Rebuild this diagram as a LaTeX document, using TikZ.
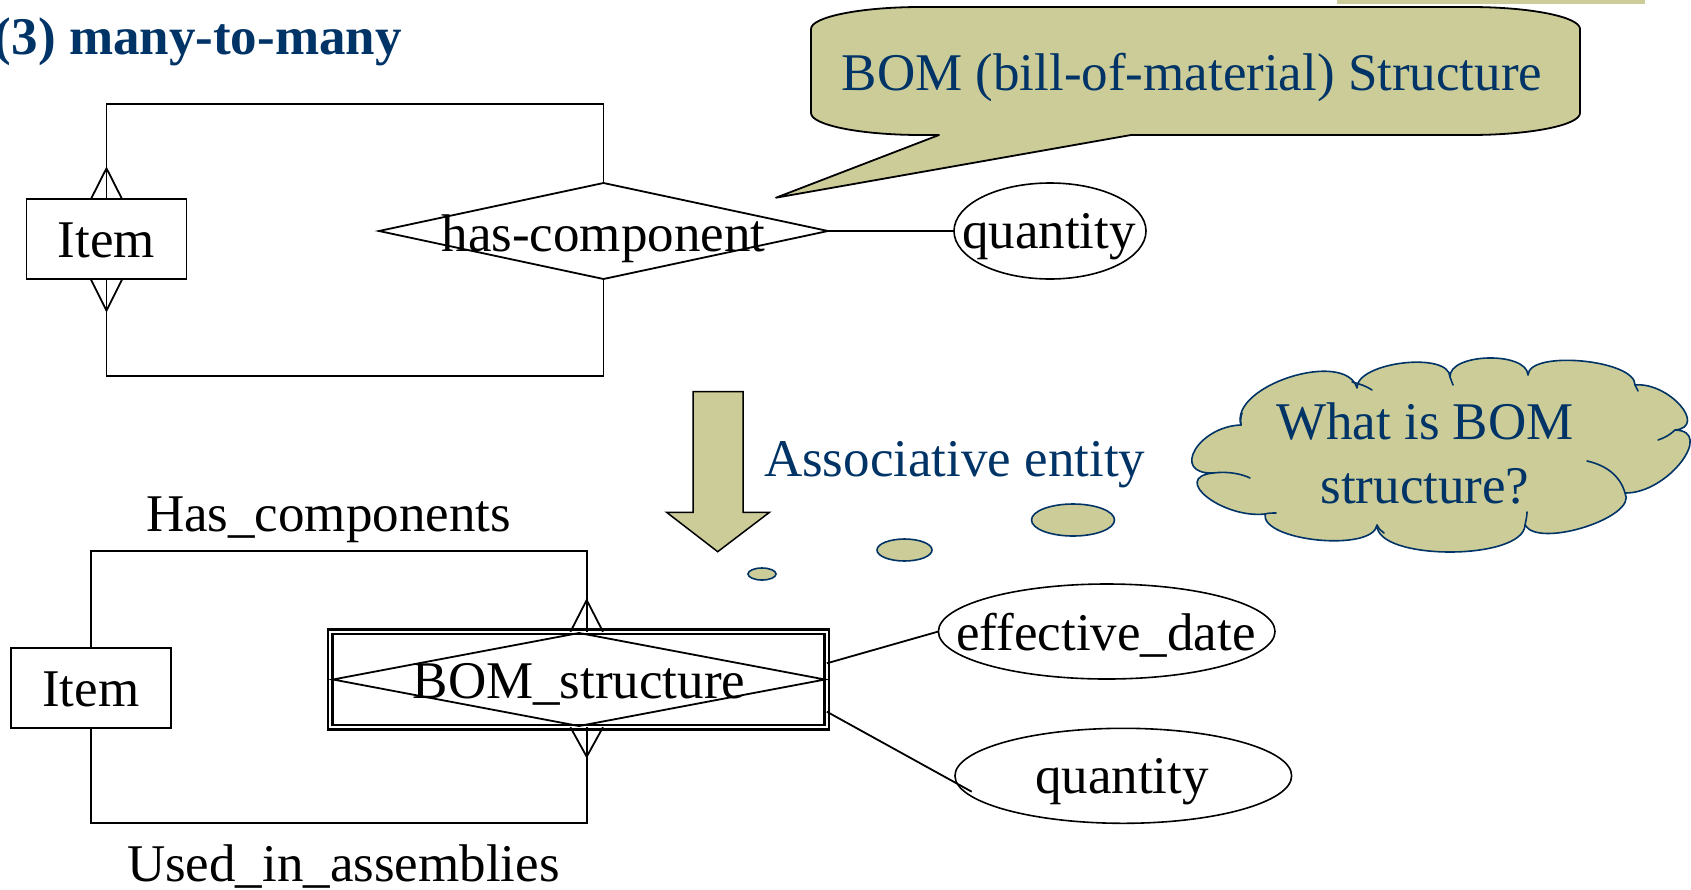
\documentclass[tikz,border=0pt]{standalone}
\usepackage{fontspec}
\setmainfont{Liberation Serif}
\usetikzlibrary{shapes.geometric,calc}
\definecolor{khaki}{RGB}{204,204,153}
\definecolor{navy}{RGB}{0,51,102}

\begin{document}
\begin{tikzpicture}[x=1pt,y=-1pt,
  every node/.style={font=\fontsize{53}{64}\selectfont, inner sep=0pt, outer sep=0pt},
  er/.style={line width=1.8pt},
  entity/.style={draw, line width=1.8pt, minimum width=160pt, minimum height=80pt,
                 text height=37pt, text depth=0pt},
  rel/.style={draw, diamond, line width=1.8pt},
  attr/.style={draw, ellipse, line width=1.6pt},
  lbl/.style={anchor=base},
  note/.style={text=navy},
  puff/.style={fill=khaki, draw=navy, line width=1.6pt},
  balloon/.style={fill=khaki, draw=black, line width=1.8pt, line join=round},
]
\useasboundingbox (0,0) rectangle (1691,889);

% header
\node[note, anchor=base west, font={\fontsize{53}{64}\selectfont\bfseries}] (title) at (-6,54) {(3) many-to-many};
\fill[khaki] (1337,0) rectangle (1645,3.5);

% ---------- recursive relationship ----------
\node[entity] (item1) at (106.5,239.3) {Item};
\node[rel, minimum width=449pt, minimum height=96pt] (hc) at (603.5,231) {};
\node[lbl] (hctext) at (603.5,251.7) {has-component};
\node[attr, minimum width=192pt, minimum height=96pt] (q1) at (1050,231) {};
\node[lbl] (q1text) at (1049,248) {quantity};

\coordinate (t1) at (603.5,103.7);
\coordinate (b1) at (603.5,375.7);
\draw[er] (item1.north) |- (t1) -- (hc.north);
\draw[er] (item1.south) |- (b1) -- (hc.south);
\draw[er] (hc.east) -- (q1.west);
% crow's feet at Item
\draw[er, line join=miter] ([xshift=-15.7pt]item1.north) -- ([yshift=31pt]item1.north) -- ([xshift=15.7pt]item1.north);
\draw[er, line join=miter] ([xshift=-15.7pt]item1.south) -- ([yshift=-31.4pt]item1.south) -- ([xshift=15.7pt]item1.south);

% speech balloon
\path[balloon] (811,29) .. controls (811,16.8) and (861,7) .. (921,7) -- (1470,7)
  .. controls (1530,7) and (1580,16.8) .. (1580,29) -- (1580,113)
  .. controls (1580,125.2) and (1530,135) .. (1470,135) -- (1131,135) -- (776,197.7)
  -- (939,135) -- (921,135) .. controls (861,135) and (811,125.2) .. (811,113) -- cycle;
\node[note, lbl] (bomnote) at (1192,90.7) {BOM (bill-of-material) Structure};

% transformation arrow
\path[fill=khaki, draw=black, line width=1.5pt, line join=miter]
  (693,391.7) -- (743,391.7) -- (743,512.3) -- (769.5,512.3) -- (717.7,551.7)
  -- (666.6,512.3) -- (693,512.3) -- cycle;
\node[note, anchor=base west] (assoc) at (764,476) {Associative entity};

% thought cloud
\draw[puff] (762,574) ellipse [x radius=14, y radius=6];
\draw[puff] (904.5,550) ellipse [x radius=27.5, y radius=11];
\draw[puff] (1073,520) ellipse [x radius=41.5, y radius=16];
\path[puff, line join=round] (1213,473) .. controls (1170.3,474.3) and (1198.3,426.3) .. (1241,425)
  .. controls (1229,385.7) and (1345,348.7) .. (1357,388)
  .. controls (1356.3,362) and (1449.3,351) .. (1450,377)
  .. controls (1448.7,353) and (1526.7,351) .. (1528,375)
  .. controls (1528.7,349.7) and (1635.7,359.7) .. (1635,385)
  .. controls (1668.3,381.7) and (1708.3,426.7) .. (1675,430)
  .. controls (1715,430.7) and (1668,493.7) .. (1625,493)
  .. controls (1638.3,517) and (1538.3,549) .. (1525,525)
  .. controls (1523.7,561) and (1375.7,561) .. (1377,525)
  .. controls (1373,552.3) and (1261,541.3) .. (1265,514)
  .. controls (1222.3,518.7) and (1170.3,477.7) .. (1213,473) -- cycle;
\begin{scope}[draw=navy, line width=1.6pt, line cap=round]
  \draw (1213,473) .. controls (1228,471) and (1242,474) .. (1250,478);
  \draw (1241,425) .. controls (1240,420) and (1241,416) .. (1242,413);
  \draw (1352,382) .. controls (1360,384) and (1366,386) .. (1372,390);
  \draw (1450,377) .. controls (1451,380) and (1452,382) .. (1453,385);
  \draw (1635,385) .. controls (1636,387) and (1637,389) .. (1638,391);
  \draw (1675,430) .. controls (1670,435) and (1664,438) .. (1658,440);
  \draw (1625,493) .. controls (1620,475) and (1605,465) .. (1587,461);
  \draw (1525,525) .. controls (1526,520) and (1527,516) .. (1527,512);
  \draw (1377,525) .. controls (1379,529) and (1381,531) .. (1384,533);
  \draw (1265,514) .. controls (1268,513) and (1272,513) .. (1276,513);
\end{scope}
\node[note, align=center] (cloudtext) at (1425,453) {What is BOM\\structure?};

% ---------- associative entity ----------
\node[lbl, anchor=base west] (hascomp) at (146,531.7) {Has\_components};
\node[lbl, anchor=base west] (usedin) at (127,881.7) {Used\_in\_assemblies};
\node[entity] (item2) at (90.7,687.8) {Item};
\node[draw, line width=2.5pt, double, double distance=2pt,
      minimum width=496.4pt, minimum height=95.4pt] (bom) at (578.6,679.5) {};
\node[rel, minimum width=492pt, minimum height=93pt] (bomrel) at (579,679.5) {};
\node[lbl] (bomtext) at (579,698.3) {BOM\_structure};

\node[attr, minimum width=336.6pt, minimum height=95pt] (edate) at (1106.7,631.5) {};
\node[lbl] (edtext) at (1106,650) {effective\_date};
\node[attr, minimum width=336.7pt, minimum height=95pt] (q2) at (1123.3,775.8) {};
\node[lbl] (q2text) at (1122,793.3) {quantity};

\coordinate (t2) at (586.7,551);
\coordinate (b2) at (586.7,823.3);
\coordinate (ftop) at (t2 |- bom.north);
\coordinate (fbot) at (b2 |- bom.south);
\coordinate (q2end) at (971.7,791.7);
\draw[er] (item2.north) |- (t2) -- (ftop);
\draw[er] (item2.south) |- (b2) -- (fbot);
\draw[er, line join=miter] ([xshift=-16.3pt]ftop) -- ([yshift=31.8pt]ftop) -- ([xshift=16.3pt]ftop);
\draw[er, line join=miter] ([xshift=-16.3pt]fbot) -- ([yshift=-29.5pt]fbot) -- ([xshift=16.3pt]fbot);
\draw[er] ([yshift=16.2pt]bom.east) -- (edate.west);
\draw[er] ([yshift=-32.2pt]bom.east) -- (q2end);
\end{tikzpicture}
\end{document}
